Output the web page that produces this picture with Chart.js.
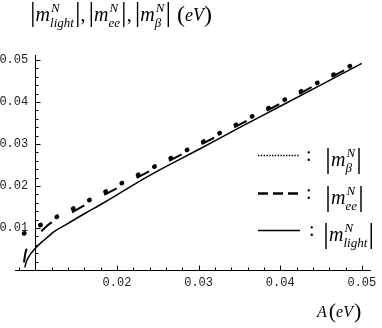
<!DOCTYPE html>
<html>
<head>
<meta charset="utf-8">
<script src="https://cdn.jsdelivr.net/npm/chart.js@4"></script>
<style>
  html, body { margin: 0; padding: 0; background: #fff; }
  canvas { display: block; }
</style>
</head>
<body>
<canvas id="chart" width="382" height="328"></canvas>
<script>
// |m_light| (solid)
const lightA = [0.0087, 0.0089, 0.0092, 0.0096, 0.0100, 0.0108, 0.0116, 0.0122, 0.014, 0.016, 0.018, 0.020, 0.0215, 0.025, 0.030, 0.035, 0.040, 0.045, 0.050];
const lightM = [0.0006, 0.0020, 0.0032, 0.0043, 0.0052, 0.0067, 0.0080, 0.0090, 0.0111, 0.0134, 0.0156, 0.0179, 0.0197, 0.0236, 0.0287, 0.0339, 0.0390, 0.0441, 0.0492];

// |m_ee| (dashed)
const eeA = [0.0086, 0.0087, 0.0088, 0.0090, 0.0093, 0.0097, 0.0100, 0.0106, 0.0112, 0.0118, 0.0136, 0.016, 0.020, 0.025, 0.030, 0.035, 0.040, 0.045, 0.050];
const eeM = [0.0018, 0.0032, 0.0043, 0.0052, 0.0060, 0.0068, 0.0074, 0.0089, 0.0101, 0.0111, 0.0128, 0.0154, 0.0195, 0.0246, 0.0296, 0.0346, 0.0396, 0.0447, 0.0497];

// |m_beta| (dotted)
const betaA = [0.0086, 0.0100, 0.0150, 0.0200, 0.0300, 0.0400, 0.0500];
const betaM = [0.0087, 0.0101, 0.0150, 0.0201, 0.0300, 0.0400, 0.0500];

const xTickLabels = ["0.02", "0.03", "0.04", "0.05"];
const yTickLabels = ["0.01", "0.02", "0.03", "0.04", "0.05"];

const serif = '"Liberation Serif", "Times New Roman", serif';
const tickFont = { family: '"Liberation Mono", monospace', size: 12 };

function pts(a, m) {
  return a.map((v, i) => ({ x: v, y: m[i] }));
}

function isMajor(v) {
  return Math.abs(v * 100 - Math.round(v * 100)) < 1e-6;
}

// draws a row of math-ish text pieces left to right
function drawMath(ctx, x, y, items) {
  for (const it of items) {
    if (it.bar) {
      ctx.font = it.bar + "px " + serif;
      ctx.fillText("|", x, y + (it.dy || 0));
      x += ctx.measureText("|").width + (it.gap || 0);
    } else if (it.sup !== undefined) {
      ctx.font = "italic 13px " + serif;
      ctx.fillText(it.sup, x + 1, y - 9);
      const w1 = ctx.measureText(it.sup).width + 1;
      ctx.fillText(it.sub, x, y + 6);
      const w2 = ctx.measureText(it.sub).width;
      x += Math.max(w1, w2) + 1;
    } else {
      ctx.font = (it.italic ? "italic " : "") + it.size + "px " + serif;
      ctx.fillText(it.text, x, y + (it.dy || 0));
      x += ctx.measureText(it.text).width + (it.gap || 0);
    }
  }
}

const m = { text: "m", size: 20, italic: true };
function absM(sub, bar, dy) {
  return [{ bar: bar, dy: dy }, m, { sup: "N", sub: sub }, { bar: bar, dy: dy }];
}

// inward tick marks, Mathematica style, placed from the chart's own scales
const tickPlugin = {
  id: "inwardTicks",
  afterDatasetsDraw(chart) {
    const ctx = chart.ctx;
    const xs = chart.scales.x, ys = chart.scales.y;
    const x0 = Math.round(xs.getPixelForValue(0.01)) + 0.5;
    const y0 = Math.round(ys.getPixelForValue(0)) + 0.5;
    ctx.save();
    ctx.strokeStyle = "#000";
    ctx.lineWidth = 1;
    ctx.beginPath();
    xs.ticks.forEach(t => {
      if (Math.abs(t.value - 0.01) < 1e-9) return;
      const px = Math.round(xs.getPixelForValue(t.value)) + 0.5;
      ctx.moveTo(px, y0);
      ctx.lineTo(px, y0 - (isMajor(t.value) ? 5 : 3));
    });
    ys.ticks.forEach(t => {
      if (t.value < 1e-9) return;
      const py = Math.round(ys.getPixelForValue(t.value)) + 0.5;
      ctx.moveTo(x0, py);
      ctx.lineTo(x0 + (isMajor(t.value) ? 5 : 3), py);
    });
    ctx.stroke();
    ctx.restore();
  }
};

const textPlugin = {
  id: "mathText",
  afterDraw(chart) {
    const ctx = chart.ctx;
    ctx.save();
    ctx.fillStyle = "#000";
    ctx.textAlign = "left";
    ctx.textBaseline = "alphabetic";

    // title
    drawMath(ctx, 30, 21, [
      ...absM("light", 28, 0),
      { text: ",", size: 20, gap: 3 },
      ...absM("ee", 28, 0),
      { text: ",", size: 20, gap: 3 },
      ...absM("\u03b2", 28, 0),
      { text: " ", size: 20, gap: 1 },
      { text: "(", size: 24, dy: 1 },
      { text: "eV", size: 18, italic: true },
      { text: ")", size: 24, dy: 1 }
    ]);

    // x-axis title
    drawMath(ctx, 317, 317, [
      { text: "A", size: 16, italic: true, gap: 2 },
      { text: "(", size: 22, dy: 1 },
      { text: "eV", size: 16, italic: true, gap: 1 },
      { text: ")", size: 22, dy: 1 }
    ]);

    // legend
    const rows = [
      { y: 155.5, dash: [1.4, 1.4], w: 1.6, sub: "\u03b2", colonX: 306, barX: 325 },
      { y: 193.5, dash: [10, 5], w: 2.5, sub: "ee", colonX: 306, barX: 325 },
      { y: 230.5, dash: [], w: 1.3, sub: "light", colonX: 309, barX: 323 }
    ];
    rows.forEach(r => {
      ctx.beginPath();
      ctx.setLineDash(r.dash);
      ctx.lineWidth = r.w;
      ctx.strokeStyle = "#000";
      ctx.moveTo(258, r.y);
      ctx.lineTo(300, r.y);
      ctx.stroke();
      ctx.setLineDash([]);
      ctx.font = "20px " + serif;
      ctx.fillText(":", r.colonX, r.y + 5);
      drawMath(ctx, r.barX, r.y + 10, absM(r.sub, 30, 2));
    });
    ctx.restore();
  }
};

const noGrid = { drawOnChartArea: false, drawTicks: false };
const axisBorder = { display: true, color: "#000", width: 1 };

new Chart(document.getElementById("chart"), {
  type: "scatter",
  data: {
    datasets: [
      {
        label: "beta",
        data: pts(betaA, betaM),
        showLine: true,
        borderColor: "#000",
        borderWidth: 4.5,
        borderDash: [0.5, 17.8],
        borderCapStyle: "round",
        pointRadius: 0
      },
      {
        label: "ee",
        data: pts(eeA, eeM),
        showLine: true,
        borderColor: "#000",
        borderWidth: 2,
        borderDash: [14, 22.6],
        cubicInterpolationMode: "monotone",
        pointRadius: 0
      },
      {
        label: "light",
        data: pts(lightA, lightM),
        showLine: true,
        borderColor: "#000",
        borderWidth: 1.5,
        cubicInterpolationMode: "monotone",
        pointRadius: 0
      }
    ]
  },
  options: {
    responsive: false,
    animation: false,
    events: [],
    layout: { autoPadding: false, padding: { left: 15, right: 11, top: 55, bottom: 58 } },
    plugins: { legend: { display: false }, tooltip: { enabled: false } },
    scales: {
      x: {
        type: "linear", min: 0.0075, max: 0.051, position: { y: 0 },
        grid: noGrid, border: axisBorder,
        ticks: {
          stepSize: 0.002, includeBounds: false, autoSkip: false, maxRotation: 0,
          padding: 5.5, color: "#222", font: tickFont,
          callback: v => { const s = v.toFixed(2); return isMajor(v) && xTickLabels.includes(s) ? s : ""; }
        }
      },
      y: {
        type: "linear", min: 0, max: 0.0512, position: { x: 0.01 },
        grid: noGrid, border: axisBorder,
        ticks: {
          stepSize: 0.002, includeBounds: false, autoSkip: false,
          color: "#222", font: tickFont,
          callback: v => { const s = v.toFixed(2); return isMajor(v) && yTickLabels.includes(s) ? s + " " : ""; }
        }
      }
    }
  },
  plugins: [tickPlugin, textPlugin]
});
</script>
</body>
</html>
